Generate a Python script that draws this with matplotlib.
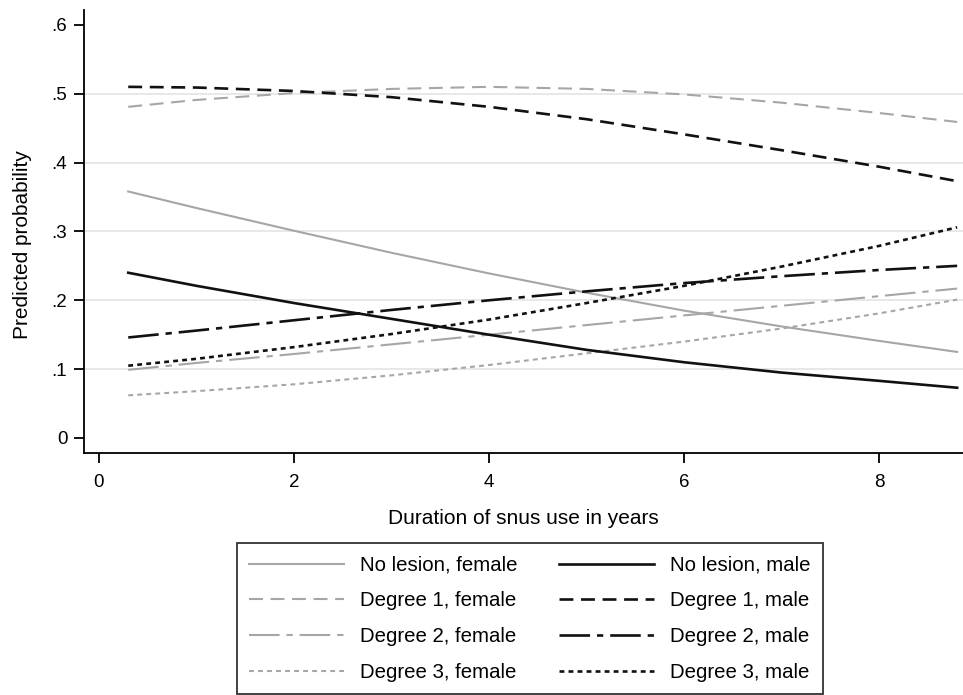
import matplotlib.pyplot as plt
from matplotlib.ticker import FuncFormatter

plt.rcParams['font.family'] = ['Liberation Sans', 'DejaVu Sans']
plt.rcParams['lines.scale_dashes'] = False

# Predicted probabilities
years = [0.3, 1, 2, 3, 4, 5, 6, 7, 8, 8.8]

no_lesion_female = [0.358, 0.334, 0.301, 0.269, 0.239, 0.211, 0.185, 0.162, 0.141, 0.125]
no_lesion_male = [0.240, 0.221, 0.196, 0.173, 0.150, 0.128, 0.110, 0.095, 0.083, 0.073]
deg1_female = [0.481, 0.491, 0.501, 0.507, 0.510, 0.507, 0.499, 0.487, 0.472, 0.459]
deg1_male = [0.510, 0.509, 0.504, 0.495, 0.481, 0.463, 0.441, 0.418, 0.394, 0.373]
deg2_female = [0.099, 0.109, 0.122, 0.136, 0.150, 0.164, 0.178, 0.192, 0.206, 0.217]
deg2_male = [0.146, 0.156, 0.171, 0.186, 0.200, 0.213, 0.225, 0.235, 0.244, 0.250]
deg3_female = [0.062, 0.068, 0.078, 0.091, 0.106, 0.123, 0.140, 0.159, 0.181, 0.201]
deg3_male = [0.105, 0.115, 0.132, 0.151, 0.172, 0.196, 0.221, 0.249, 0.279, 0.306]

female_labels = ['No lesion, female', 'Degree 1, female', 'Degree 2, female', 'Degree 3, female']
male_labels = ['No lesion, male', 'Degree 1, male', 'Degree 2, male', 'Degree 3, male']
female_series = [no_lesion_female, deg1_female, deg2_female, deg3_female]
male_series = [no_lesion_male, deg1_male, deg2_male, deg3_male]

yticks = [0, 0.1, 0.2, 0.3, 0.4, 0.5, 0.6]
xticks = [0, 2, 4, 6, 8]

gray = '#a6a6a6'
black = '#111111'
dash_styles = ['-', (0, (10, 5.5)), (0, (22, 5, 4.5, 5)), (0, (3.5, 3))]

fig = plt.figure(figsize=(9.63, 6.95), dpi=100)
ax = fig.add_axes([0.0872, 0.348, 0.9128, 0.638])

# light horizontal grid
for y in yticks[1:-1]:
    ax.axhline(y, color='#e4e4e4', lw=1.2, zorder=0)

handles = []
labels = []
for vals, lab, ls in zip(female_series, female_labels, dash_styles):
    ln, = ax.plot(years, vals, color=gray, lw=1.5, ls=ls)
    handles.append(ln)
    labels.append(lab)
for vals, lab, ls in zip(male_series, male_labels, dash_styles):
    ln, = ax.plot(years, vals, color=black, lw=1.9, ls=ls)
    handles.append(ln)
    labels.append(lab)

ax.set_xlim(-0.154, 8.86)
ax.set_ylim(-0.022, 0.622)
ax.set_xticks(xticks)
ax.set_yticks(yticks)
ax.yaxis.set_major_formatter(FuncFormatter(lambda v, p: '0' if v == 0 else ('%.1f' % v).lstrip('0')))
ax.tick_params(axis='both', labelsize=13.5, length=7, width=1.3, colors='black')
ax.tick_params(axis='x', pad=8)
ax.tick_params(axis='y', pad=5)
for s in ['top', 'right']:
    ax.spines[s].set_visible(False)
for s in ['left', 'bottom']:
    ax.spines[s].set_linewidth(1.3)
ax.set_xlabel('Duration of snus use in years', fontsize=15, labelpad=13)
ax.set_ylabel('Predicted probability', fontsize=15)
ax.yaxis.set_label_coords(-0.059, 0.47)

leg = fig.legend(handles=handles, labels=labels, ncol=2, loc='upper center',
                 bbox_to_anchor=(0.550, 0.218), fontsize=14.7, frameon=True,
                 fancybox=False, edgecolor='black', handlelength=4.65,
                 handletextpad=0.8, columnspacing=2.0, labelspacing=0.82,
                 borderpad=0.6, borderaxespad=0)
leg.get_frame().set_linewidth(1.3)

plt.savefig('out.png', dpi=100)
